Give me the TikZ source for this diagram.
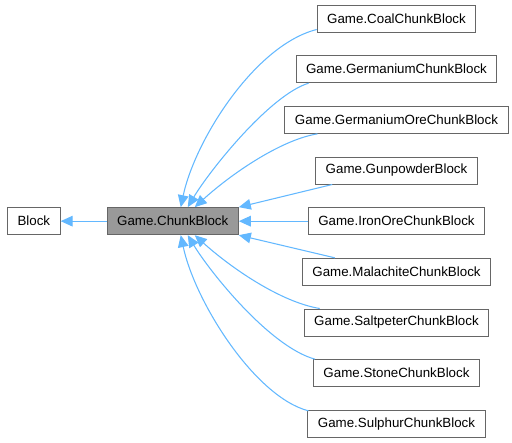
\documentclass[tikz,border=0pt]{standalone}
\usepackage{fontspec}
\setmainfont{Liberation Sans}
\usetikzlibrary{positioning,arrows.meta,calc}

\definecolor{edgeblue}{HTML}{63B8FF}
\definecolor{boxline}{HTML}{666666}
\definecolor{boxfill}{HTML}{999999}

\begin{document}
\begin{tikzpicture}[
    x=0.75pt, y=-0.75pt,
    node distance=17pt and 51.75pt,
    cls/.style={rectangle, draw=boxline, fill=white, line width=0.75pt, inner xsep=7.5pt, minimum height=20.25pt, font=\fontsize{10}{12}\selectfont},
    main/.style={cls, fill=boxfill},
    edge/.style={-{Triangle[length=9pt,width=8pt]}, draw=edgeblue, line width=0.8pt}
]
\useasboundingbox (0,0) rectangle (512,443);

% Klassen
\node[cls] (coal) at (396.5,18.5) {Game.CoalChunkBlock};
\node[cls, below=of coal] (germ) {Game.GermaniumChunkBlock};
\node[cls, below=of germ] (germore) {Game.GermaniumOreChunkBlock};
\node[cls, below=of germore] (gun) {Game.GunpowderBlock};
\node[cls, below=of gun] (iron) {Game.IronOreChunkBlock};
\node[cls, below=of iron] (mal) {Game.MalachiteChunkBlock};
\node[cls, below=of mal] (salt) {Game.SaltpeterChunkBlock};
\node[cls, below=of salt] (stone) {Game.StoneChunkBlock};
\node[cls, below=of stone] (sulph) {Game.SulphurChunkBlock};
\node[main, left=of iron] (chunk) {Game.ChunkBlock};
\node[cls, left=34.5pt of chunk] (block) {Block};

% Vererbung
\draw[edge] (chunk) -- (block);
\draw[edge] ($(coal.south west)+(0,-3)$) .. controls (255,45) and (195,140) .. ($(chunk.north)+(8,0)$);
\draw[edge] ($(germ.south west)+(13,0)$) .. controls (270,95) and (210,170) .. ($(chunk.north)+(15,0)$);
\draw[edge] ($(germore.south west)+(33,0)$) .. controls (280,140) and (230,175) .. ($(chunk.north)+(22,0)$);
\draw[edge] ($(gun.south west)+(17,0)$) -- (chunk.north east);
\draw[edge] (iron) -- (chunk);
\draw[edge] ($(mal.north west)+(33,0)$) -- (chunk.south east);
\draw[edge] ($(salt.north west)+(16,0)$) .. controls (280,302) and (230,267) .. ($(chunk.south)+(22,0)$);
\draw[edge] ($(stone.north west)+(2,0)$) .. controls (270,347) and (210,272) .. ($(chunk.south)+(15,0)$);
\draw[edge] ($(sulph.north west)+(1,1)$) .. controls (255,397) and (195,302) .. ($(chunk.south)+(8,0)$);

\end{tikzpicture}
\end{document}
